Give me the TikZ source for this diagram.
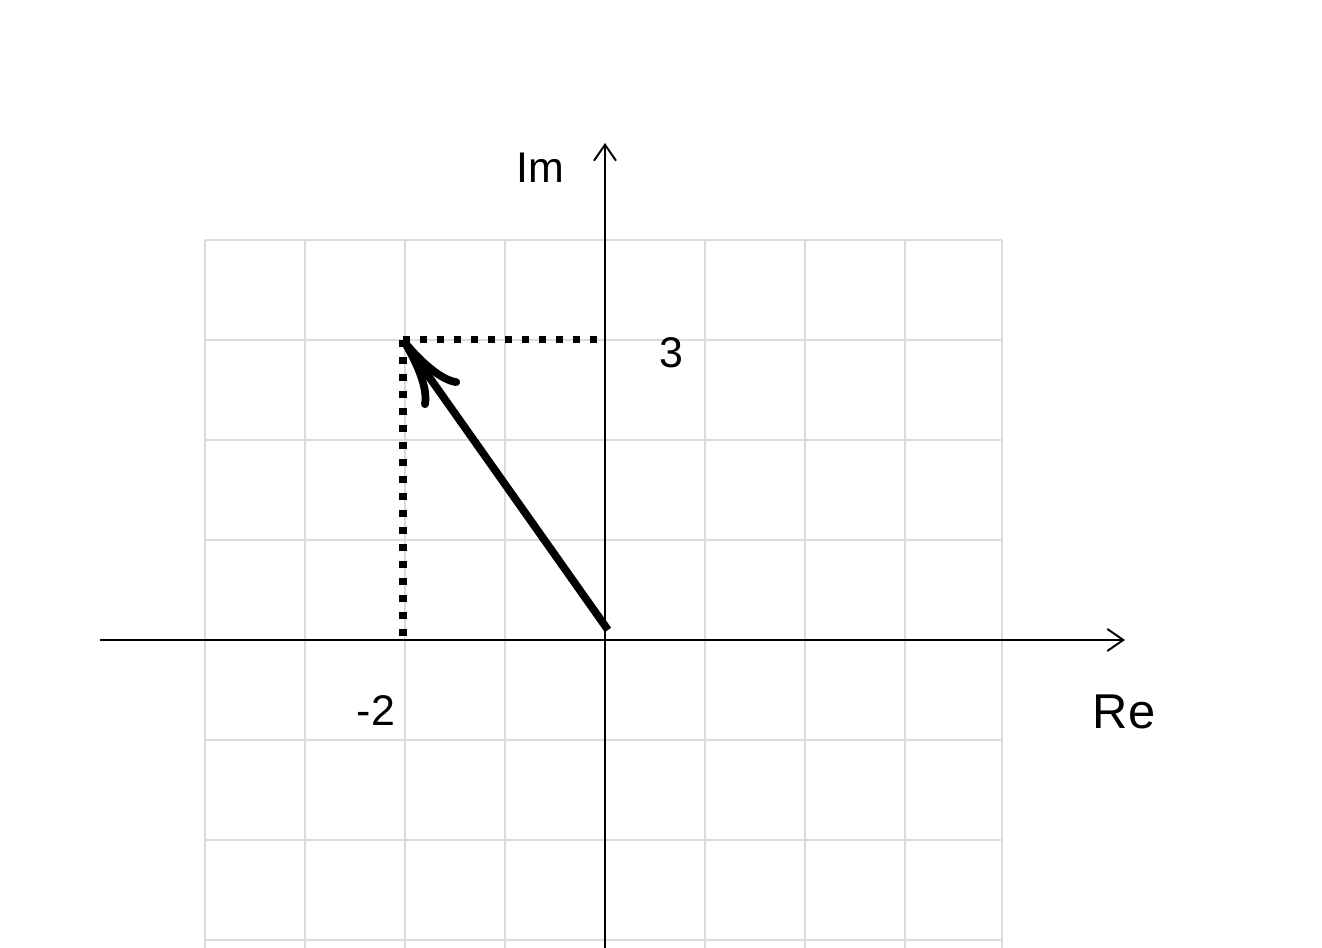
\documentclass[tikz,border=0pt]{standalone}
\usepackage{fontspec}
\setmainfont{Liberation Sans}
\usetikzlibrary{arrows.meta}
\begin{document}
\begin{tikzpicture}[x=1cm,y=1cm,
  gridline/.style={draw=black!14, line width=0.55pt},
  axisline/.style={draw=black, line width=0.55pt, -{Straight Barb[length=1.6mm,width=2.2mm,line width=0.55pt]}},
  vecline/.style={draw=black, line width=2.2pt, -{Computer Modern Rightarrow[length=6.9mm,width=4.6mm,line width=2.2pt]}},
  projline/.style={draw=black, line width=2pt, dash pattern=on 0.07cm off 0.1cm},
  lbl/.style={font=\fontsize{12.2}{14}\selectfont, inner sep=0pt},
  biglbl/.style={font=\fontsize{13.9}{16}\selectfont, inner sep=0pt}]
\useasboundingbox (-6.05,-3.08) rectangle (7.17,6.40);
\fill[white] (-6.05,-3.08) rectangle (7.17,6.40);
\draw[gridline] (-4,-3.08) grid (3.97,4);
\draw[gridline] (3.97,-3.08) -- (3.97,4);
\coordinate (xs) at (-5.05,0);
\coordinate (xe) at (5.2,0);
\coordinate (ys) at (0,-3.08);
\coordinate (ye) at (0,4.97);
\draw[axisline] (xs) -- (xe);
\draw[axisline] (ys) -- (ye);
\coordinate (O) at (0.03,0.1);
\coordinate (P) at (-2.02,3.0);
\coordinate (Px) at (-2.02,0);
\coordinate (Py) at (-0.05,3.0);
\draw[projline] (P) -- (Py);
\draw[projline] (P) -- (Px);
\draw[vecline] (O) -- (P);
\node[lbl] (im) at (-0.65,4.72) {Im};
\node[lbl] (three) at (0.66,2.87) {3};
\node[lbl] (mtwo) at (-2.29,-0.71) {-2};
\node[biglbl] (re) at (5.19,-0.72) {Re};
\end{tikzpicture}
\end{document}
